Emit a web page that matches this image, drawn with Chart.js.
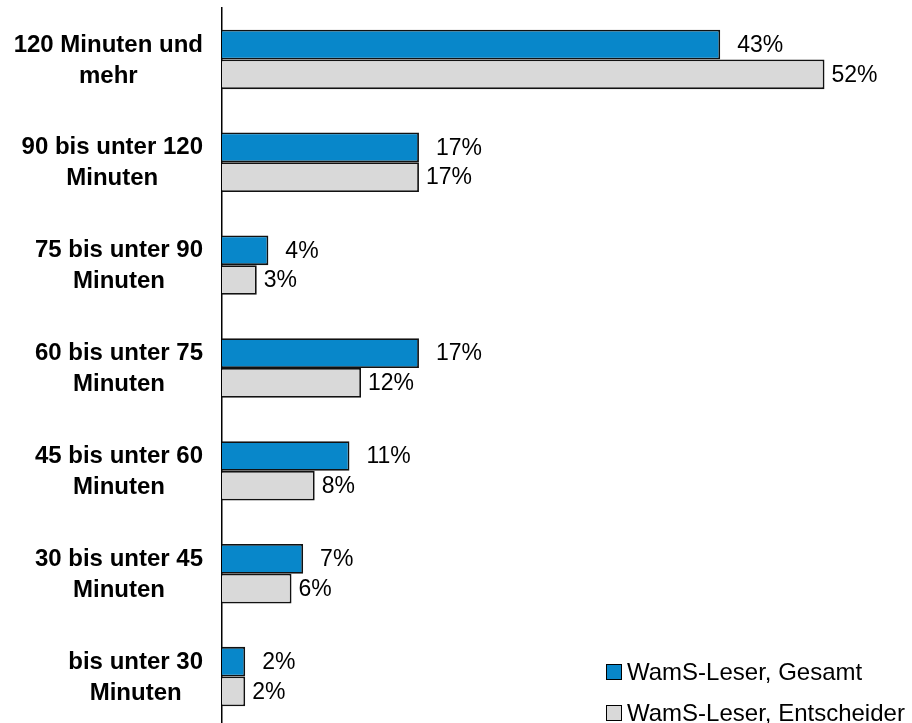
<!DOCTYPE html>
<html>
<head>
<meta charset="utf-8">
<script src="https://cdn.jsdelivr.net/npm/chart.js@4.4.1/dist/chart.umd.min.js"></script>
<style>
  html, body { margin: 0; padding: 0; background: #fff; overflow: hidden; }
  #wrap { position: relative; width: 912px; height: 723px; overflow: hidden; }
  #chartBox { position: absolute; left: 0; top: 0; width: 912px; height: 740px; }
  .legend { position: absolute; left: 606px; font-family: "Liberation Sans", Arial, sans-serif; font-size: 24px; color: #000; white-space: nowrap; }
  .legend span.box { display: inline-block; width: 14px; height: 14px; border: 1px solid #000; margin-right: 5px; vertical-align: 0px; }
</style>
</head>
<body>
<div id="wrap">
  <div id="chartBox"><canvas id="myChart" width="912" height="740"></canvas></div>
  <div class="legend" id="leg1" style="top:658px"><span class="box" style="background:#0887CA"></span>WamS-Leser, Gesamt</div>
  <div class="legend" id="leg2" style="top:699px"><span class="box" style="background:#D9D9D9"></span>WamS-Leser, Entscheider</div>
</div>
<script>
// categories (top to bottom)
const categories = [
    ["120 Minuten und", "mehr"],
    ["90 bis unter 120", "Minuten"],
    ["75 bis unter 90", "Minuten"],
    ["60 bis unter 75", "Minuten"],
    ["45 bis unter 60", "Minuten"],
    ["30 bis unter 45", "Minuten"],
    ["bis unter 30", "Minuten"]
];
const seriesNames = ["WamS-Leser, Gesamt", "WamS-Leser, Entscheider"];
const gesamt = [43, 17, 4, 17, 11, 7, 2];
const entscheider = [52, 17, 3, 12, 8, 6, 2];
const seriesColors = ["#0887CA", "#D9D9D9"];

// bar value labels to the right of each bar
const valueLabels = {
    id: 'valueLabels',
    afterDatasetsDraw(chart) {
        const ctx = chart.ctx;
        ctx.save();
        ctx.font = '23px "Liberation Sans", Arial, sans-serif';
        ctx.fillStyle = '#000';
        ctx.textBaseline = 'middle';
        ctx.textAlign = 'left';
        chart.data.datasets.forEach(function (ds, di) {
            var meta = chart.getDatasetMeta(di);
            var gap = di === 0 ? 17 : 7;
            meta.data.forEach(function (bar, i) {
                ctx.fillText(ds.data[i] + '%', bar.x + gap, bar.y + 1);
            });
        });
        ctx.restore();
    }
};

// category labels: block right-aligned, lines centred on each other
const categoryLabels = {
    id: 'categoryLabels',
    afterDraw(chart) {
        const ctx = chart.ctx;
        const yScale = chart.scales.y;
        const rightEdge = 203;
        const lineH = 31;
        ctx.save();
        ctx.font = 'bold 24px "Liberation Sans", Arial, sans-serif';
        ctx.fillStyle = '#000';
        ctx.textBaseline = 'middle';
        ctx.textAlign = 'center';
        chart.data.labels.forEach(function (lines, i) {
            var yc = yScale.getPixelForTick(i);
            var maxW = Math.max.apply(null, lines.map(function (l) { return ctx.measureText(l).width; }));
            var xc = rightEdge - maxW / 2;
            var y0 = yc - (lines.length - 1) * lineH / 2;
            lines.forEach(function (l, k) {
                ctx.fillText(l, xc, y0 + k * lineH + 1);
            });
        });
        ctx.restore();
    }
};

var ctx = document.getElementById('myChart').getContext('2d');
new Chart(ctx, {
    type: 'bar',
    data: {
        labels: categories,
        datasets: [{
            label: seriesNames[0],
            data: gesamt,
            backgroundColor: seriesColors[0],
            borderColor: '#111',
            borderWidth: 1.8,
            categoryPercentage: 0.578,
            barPercentage: 1
        }, {
            label: seriesNames[1],
            data: entscheider,
            backgroundColor: seriesColors[1],
            borderColor: '#111',
            borderWidth: 1.8,
            categoryPercentage: 0.578,
            barPercentage: 1
        }]
    },
    options: {
        indexAxis: 'y',
        responsive: false,
        animation: false,
        layout: { padding: { left: 222, right: 18, top: 8, bottom: 12 } },
        plugins: {
            legend: { display: false },
            tooltip: { enabled: false }
        },
        scales: {
            x: {
                display: false,
                min: 0,
                max: 58
            },
            y: {
                grid: { display: false, drawTicks: false },
                border: { display: true, color: '#000', width: 1.5 },
                ticks: { display: false }
            }
        }
    },
    plugins: [valueLabels, categoryLabels]
});
</script>
</body>
</html>
